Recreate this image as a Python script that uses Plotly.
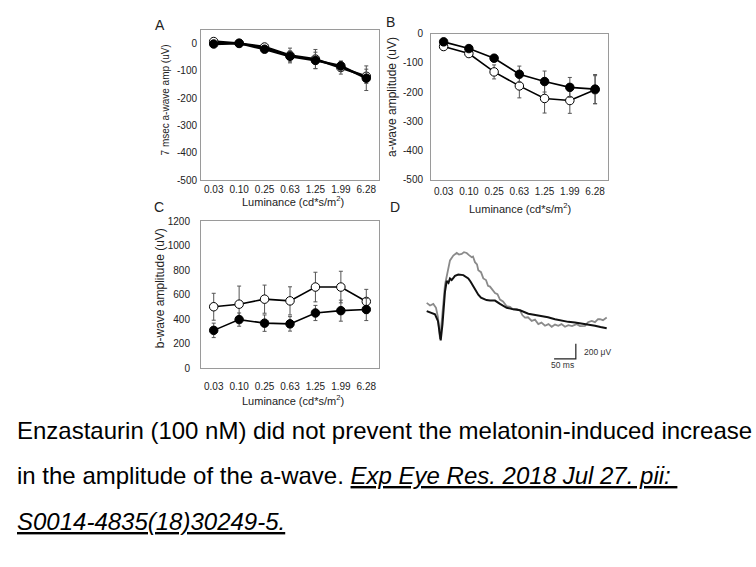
import plotly.graph_objects as go

# ---------------- data ----------------
LUMINANCE = ["0.03", "0.10", "0.25", "0.63", "1.25", "1.99", "6.28"]

# Panel A: 7 msec a-wave amplitude (uV)
A_FILLED = [-2, 1, -21, -47, -62, -82, -127]
A_FILLED_ERR = [3, 3, 8, 20, 30, 15, 45]
A_OPEN = [7, 0, -13, -44, -57, -88, -120]
A_OPEN_ERR = [4, 3, 10, 27, 35, 24, 26]

# Panel B: a-wave amplitude (uV)
B_FILLED = [-28, -51, -84, -139, -164, -184, -190]
B_FILLED_ERR = [5, 6, 12, 28, 36, 34, 50]
B_OPEN = [-44, -68, -131, -179, -222, -229, -192]
B_OPEN_ERR = [8, 10, 24, 41, 50, 44, 48]

# Panel C: b-wave amplitude (uV)
C_OPEN = [502, 523, 564, 550, 663, 663, 545]
C_OPEN_ERR = [110, 148, 115, 115, 121, 129, 99]
C_FILLED = [309, 397, 368, 362, 451, 470, 480]
C_FILLED_ERR = [59, 54, 67, 59, 62, 86, 91]

A_TICKS = [-500, -400, -300, -200, -100, 0]
B_TICKS = [-500, -400, -300, -200, -100, 0]
C_TICKS = [0, 200, 400, 600, 800, 1000, 1200]

# Panel D: representative ERG traces (time in ms, amplitude in uV)
D_GRAY_T = [0, 7.6, 15.2, 21.4, 26, 30.6, 35, 42, 47.4, 53.6, 61.2, 69, 74.3, 80.5, 85.8, 92,
            97.3, 103.5, 106.5, 111, 115.7, 118.7, 124.9, 130.2, 136.4, 141, 145.6, 151.3,
            157.1, 162.8, 168.6, 175.5, 184, 191.6, 199.2, 207, 214.6, 220.3, 226.1, 233,
            241.5, 249.1, 256.7, 264, 272.1, 280.1, 287.5, 295.1, 302.7, 310, 318.1, 325.8,
            334.2, 345, 352.6, 364.1, 371, 379.5, 387.1, 394, 398.6, 405.5, 414]
D_GRAY_V = [109, 75, 96, 44, -82, -368, -108, 347, 499, 673, 738, 772, 751, 759, 783, 772,
            744, 715, 725, 650, 621, 543, 517, 434, 413, 335, 325, 283, 239, 224, 153, 127,
            65, 55, 23, 29, 10, -56, -86, -82, -130, -114, -173, -153, -195, -173, -208,
            -179, -195, -173, -208, -186, -199, -173, -199, -195, -147, -130, -147, -108,
            -108, -121, -86]
D_BLACK_T = [0, 9.9, 19.1, 26, 32.2, 36.3, 42.1, 46, 50.1, 53.6, 57.5, 65.1, 72.7, 84.2, 95.7,
             100.7, 107.2, 113.4, 118.7, 124.9, 130.2, 137.5, 145.6, 157.1, 168.6, 184, 199.2,
             214.6, 233.7, 249.1, 264.5, 279, 295.1, 310, 325.7, 341.1, 356.5, 371, 387.1,
             399.7, 414]
D_BLACK_V = [0, -17, -43, -134, -390, -173, 260, 400, 374, 434, 413, 468, 486, 478, 434, 393,
             325, 263, 218, 179, 161, 146, 140, 140, 96, 44, 23, 10, -34, -49, -65, -82,
             -108, -127, -143, -151, -164, -179, -195, -212, -229]
SCALE_T = [293, 343, 343]          # 50 ms
SCALE_V = [-634, -634, -434]       # 200 uV

W, H = 756, 567
FONT = "Liberation Sans, Arial, sans-serif"


def px(x, y):
    return x / W, 1 - y / H


fig = go.Figure()


def add_pair(xa, ya, open_v, open_e, fill_v, fill_e, lw):
    fig.add_trace(go.Scatter(
        x=LUMINANCE, y=open_v, xaxis=xa, yaxis=ya, mode="lines+markers",
        line=dict(color="black", width=lw),
        marker=dict(symbol="circle", size=8.5, color="white", line=dict(color="black", width=1)),
        error_y=dict(type="data", array=open_e, color="#555", thickness=1, width=2),
        showlegend=False))
    fig.add_trace(go.Scatter(
        x=LUMINANCE, y=fill_v, xaxis=xa, yaxis=ya, mode="lines+markers",
        line=dict(color="black", width=lw),
        marker=dict(symbol="circle", size=8.5, color="black", line=dict(color="black", width=1)),
        error_y=dict(type="data", array=fill_e, color="#555", thickness=1, width=2),
        showlegend=False))


add_pair("x", "y", A_OPEN, A_OPEN_ERR, A_FILLED, A_FILLED_ERR, 2.4)
add_pair("x2", "y2", B_OPEN, B_OPEN_ERR, B_FILLED, B_FILLED_ERR, 1.6)
add_pair("x3", "y3", C_OPEN, C_OPEN_ERR, C_FILLED, C_FILLED_ERR, 1.6)

fig.add_trace(go.Scatter(x=D_GRAY_T, y=D_GRAY_V, xaxis="x4", yaxis="y4", mode="lines",
                         line=dict(color="#8a8a8a", width=1.8), showlegend=False))
fig.add_trace(go.Scatter(x=D_BLACK_T, y=D_BLACK_V, xaxis="x4", yaxis="y4", mode="lines",
                         line=dict(color="#111", width=2), showlegend=False))
fig.add_trace(go.Scatter(x=SCALE_T, y=SCALE_V, xaxis="x4", yaxis="y4", mode="lines",
                         line=dict(color="#222", width=1.2), showlegend=False))

frame = dict(showline=True, mirror=True, linecolor="#9a9a9a", linewidth=1,
             showgrid=False, zeroline=False, ticks="",
             tickfont=dict(family=FONT, size=10, color="#222"))


def xcat(x0, x1, anchor, standoff):
    d = dict(frame)
    d.update(domain=[x0 / W, x1 / W], type="category", range=[-0.5, 6.5], anchor=anchor,
             ticklabelstandoff=standoff)
    return d


def ylin(y0, y1, rng, ticks, anchor, standoff):
    d = dict(frame)
    d.update(domain=[1 - y1 / H, 1 - y0 / H], range=rng, tickvals=ticks,
             ticktext=[str(t) for t in ticks], anchor=anchor, ticklabelstandoff=standoff)
    return d


fig.update_layout(
    width=W, height=H, autosize=False,
    margin=dict(l=0, r=0, t=0, b=0),
    paper_bgcolor="white", plot_bgcolor="white",
    font=dict(family=FONT, color="#222"),
    xaxis=xcat(201, 379, "y", 0),
    yaxis=ylin(24.3, 178, [-500, 50], A_TICKS, "x", 1),
    xaxis2=xcat(431, 607.7, "y2", 2),
    yaxis2=ylin(28.3, 177.3, [-500, 0], B_TICKS, "x2", 5),
    xaxis3=xcat(201, 379, "y3", 9),
    yaxis3=ylin(220, 370, [0, 1200], C_TICKS, "x3", 8),
    xaxis4=dict(domain=[420 / W, 620 / W], range=[-15.4, 444.6], visible=False, anchor="y4"),
    yaxis4=dict(domain=[1 - 380 / H, 1 - 240 / H], range=[-888, 932], visible=False, anchor="x4"),
)

ann = []


def text(x, y, s, size, angle=0, xanchor="center", color="#222", ref=None):
    if ref is None:
        xx, yy = px(x, y)
        xr, yr = "paper", "paper"
    else:
        xx, yy = x, y
        xr, yr = ref
    ann.append(dict(x=xx, y=yy, xref=xr, yref=yr, text=s, showarrow=False, textangle=angle,
                    xanchor=xanchor, yanchor="middle",
                    font=dict(family=FONT, size=size, color=color)))


# panel letters
text(160, 19.5, "A", 14)
text(390.5, 16.7, "B", 14)
text(158.8, 205, "C", 14)
text(394.7, 205, "D", 14)

# axis titles
lum = "Luminance (cd*s/m<sup>2</sup>)"
text(293, 199.5, lum, 11)
text(519.5, 206, lum, 11)
text(293, 403, lum, 11)
text(165, 96.5, "7 msec a-wave amp (uV)", 10, angle=-90)
text(391.5, 93.5, "a-wave amplitude (uV)", 12, angle=-90)
text(160, 288.3, "b-wave amplitude (uV)", 12, angle=-90)

# scale bar labels (panel D data coords)
text(356.5, -541, "200 μV", 8.5, xanchor="left", color="#333", ref=("x4", "y4"))
text(312.3, -715, "50 ms", 8.5, color="#333", ref=("x4", "y4"))

# caption
text(15, 434, "Enzastaurin (100 nM) did not prevent the melatonin-induced increase", 24,
     xanchor="left", color="black")
text(15, 480, "in the amplitude of the a-wave. <u><i>Exp Eye Res. 2018 Jul 27. pii: </i></u>", 24,
     xanchor="left", color="black")
text(15, 527, "<u><i>S0014-4835(18)30249-5.</i></u>", 24, xanchor="left", color="black")

fig.update_layout(annotations=ann)
fig.write_html("out.html")
